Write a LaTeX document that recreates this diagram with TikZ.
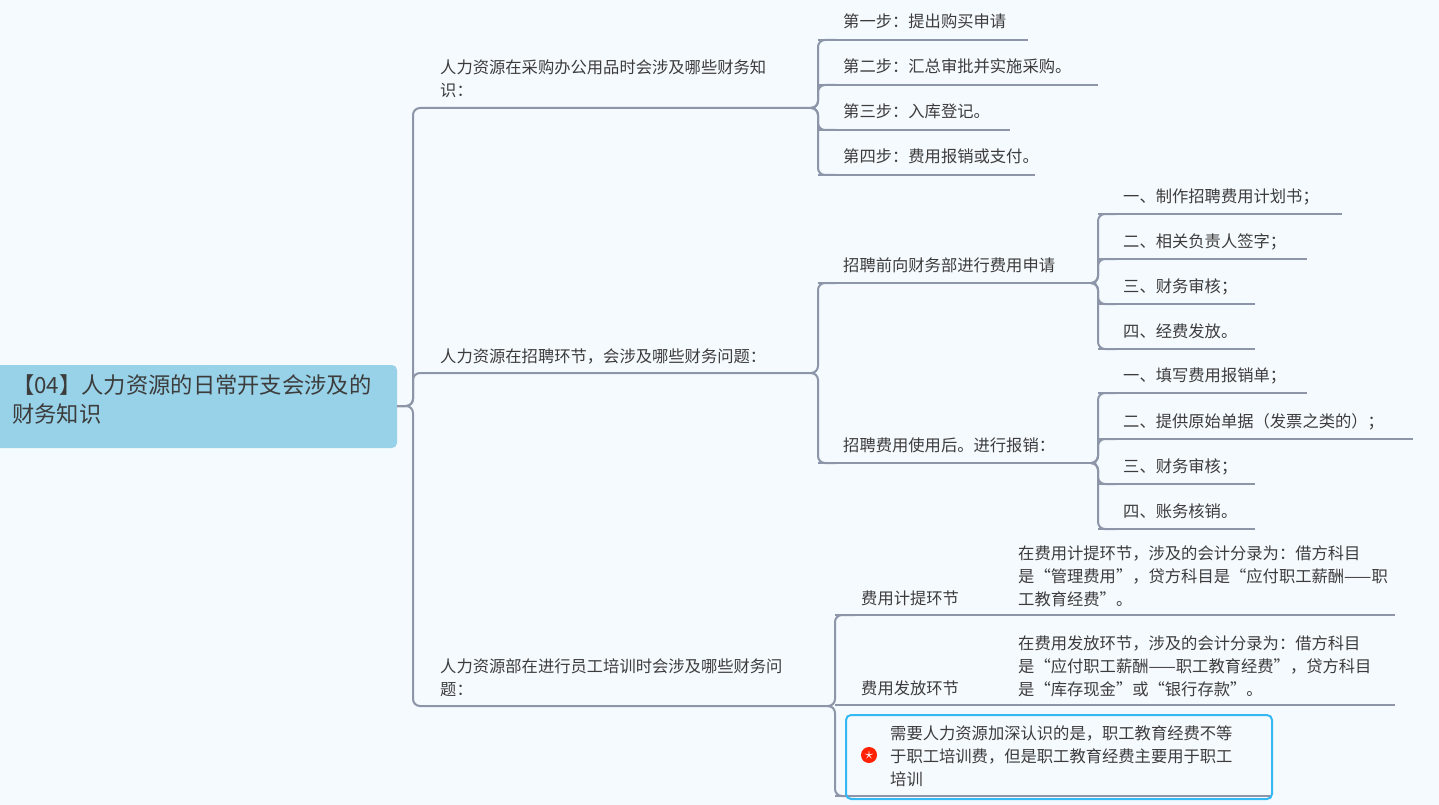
\documentclass[tikz,border=0pt]{standalone}
\usepackage{fontspec}
\newfontfamily\cjk{Noto Sans CJK SC}
\begin{document}
\begin{tikzpicture}[x=1pt,y=-1pt,
  ln/.style={draw=lc,line width=2pt,rounded corners=7pt},
  txt/.style={font=\cjk\fontsize{16.3}{23}\selectfont,text=tc,inner sep=0pt,anchor=base west,align=left}]
\definecolor{lc}{HTML}{8D96A8}
\definecolor{tc}{HTML}{3C3C3C}
\definecolor{bg}{HTML}{F5FAFE}
\definecolor{rootc}{HTML}{98D2E8}
\definecolor{boxc}{HTML}{36B8F2}
\useasboundingbox[fill=bg] (0,0) rectangle (1439,805);
% root
\fill[rootc,rounded corners=5pt] (-10,365) rectangle (397,448);
\node[txt,font=\cjk\fontsize{22.3}{29}\selectfont,anchor=north west] (root) at (12,374) {【04】人力资源的日常开支会涉及的\\财务知识};
\coordinate (r) at (397,406);
\newcommand\lf[5]{\node[txt] (#1) at (#2+25,#3-12) {#5}; \coordinate (#1e) at (#4,#3); \draw[ln,rounded corners=0pt] (#2,#3) -- (#4,#3);}
% level 1
\node[txt] (b1) at (440,97) {人力资源在采购办公用品时会涉及哪些财务知\\识：};
\coordinate (b1e) at (815,108);
\draw[ln] (r) -- (413,406) |- (b1e);
\node[txt] (b2) at (440,362) {人力资源在招聘环节，会涉及哪些财务问题：};
\coordinate (b2e) at (815,373);
\draw[ln] (r) -- (413,406) |- (b2e);
\node[txt] (b3) at (440,695) {人力资源部在进行员工培训时会涉及哪些财务问\\题：};
\coordinate (b3e) at (832,706);
\draw[ln] (r) -- (413,406) |- (b3e);
% branch 1 children
\lf{a1}{818}{40}{1028}{第一步：提出购买申请}
\lf{a2}{818}{85}{1098}{第二步：汇总审批并实施采购。}
\lf{a3}{818}{130}{1010}{第三步：入库登记。}
\lf{a4}{818}{175}{1035}{第四步：费用报销或支付。}
\foreach \y in {40,85,130,175} \draw[ln] (b1e) -- (818,108) |- (836,\y);
% branch 2
\lf{c1}{818}{283}{1096}{招聘前向财务部进行费用申请}
\lf{c2}{818}{463}{1096}{招聘费用使用后。进行报销：}
\foreach \y in {283,463} \draw[ln] (b2e) -- (818,373) |- (836,\y);
\lf{d1}{1098}{214}{1342}{一、制作招聘费用计划书；}
\lf{d2}{1098}{259}{1307}{二、相关负责人签字；}
\lf{d3}{1098}{304}{1255}{三、财务审核；}
\lf{d4}{1098}{349}{1255}{四、经费发放。}
\foreach \y in {214,259,304,349} \draw[ln] (c1e) -- (1098,283) |- (1116,\y);
\lf{e1}{1098}{393}{1307}{一、填写费用报销单；}
\lf{e2}{1098}{439}{1413}{二、提供原始单据（发票之类的）；}
\lf{e3}{1098}{484}{1255}{三、财务审核；}
\lf{e4}{1098}{529}{1255}{四、账务核销。}
\foreach \y in {393,439,484,529} \draw[ln] (c2e) -- (1098,463) |- (1116,\y);
% branch 3
\draw[ln,rounded corners=0pt] (835,615) -- (1395,615);
\draw[ln,rounded corners=0pt] (835,705) -- (1395,705);
\draw[ln,rounded corners=0pt] (835,796) -- (1272,796);
\node[txt] (f1) at (861,604) {费用计提环节};
\node[txt] (f2) at (861,694) {费用发放环节};
\node[txt] (g1) at (1018,605) {在费用计提环节，涉及的会计分录为：借方科目\\是“管理费用”，贷方科目是“应付职工薪酬——职\\工教育经费”。};
\node[txt] (g2) at (1018,695) {在费用发放环节，涉及的会计分录为：借方科目\\是“应付职工薪酬——职工教育经费”，贷方科目\\是“库存现金”或“银行存款”。};
\draw[ln] (b3e) -- (835,706) |- (855,615);
\draw[ln] (b3e) -- (835,706) |- (855,796);
\draw[draw=boxc,line width=2pt,rounded corners=5pt] (846,715) rectangle (1272,799);
\fill[red!75!orange] (869,755) circle (8);
\node[text=white,font=\fontsize{16}{16}\selectfont,inner sep=0pt] (star) at (869,755.5) {$\star$};
\node[txt] (h) at (890,785) {需要人力资源加深认识的是，职工教育经费不等\\于职工培训费，但是职工教育经费主要用于职工\\培训};
\end{tikzpicture}
\end{document}
